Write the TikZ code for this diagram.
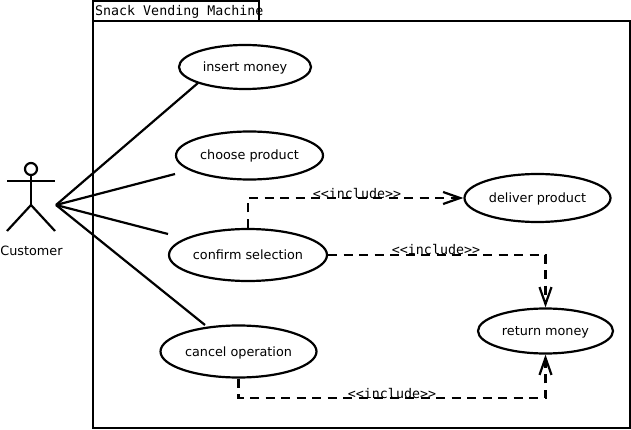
\documentclass[tikz,border=0pt]{standalone}
\usepackage{fontspec}
\setmainfont{DejaVu Sans}
\newfontfamily\monof{DejaVu Sans Mono}
\usetikzlibrary{arrows.meta,shapes.geometric}
\tikzset{
  usecase/.style={ellipse,draw,line width=2.2pt,inner sep=0pt,fill=white,text height=10pt,text depth=1pt,font=\fontsize{12.8}{15}\selectfont},
  assoc/.style={line width=2.2pt},
  incl/.style={line width=2.2pt,dash pattern=on 9pt off 6.5pt,-{Straight Barb[length=17pt,width=12pt,line width=2.2pt]}},
  stereo/.style={font=\monof\fontsize{13.3}{15}\selectfont,inner sep=0pt},
  frameb/.style={draw,line width=2.2pt}
}
\begin{document}
\begin{tikzpicture}[x=1pt,y=-1pt]
\useasboundingbox (0,0) rectangle (631,430);
\node[frameb,minimum width=537pt,minimum height=407pt,inner sep=0pt] (sys) at (361.5,224.5) {};
\node[frameb,minimum width=166pt,minimum height=20pt,inner sep=0pt] (tab) at (176,11) {};
\node[stereo,anchor=west] (title) at (95,11.5) {Snack Vending Machine};
% actor
\node[circle,draw,line width=2.2pt,minimum size=12pt,inner sep=0pt] (head) at (31,169) {};
\coordinate (neck) at (31,205);
\coordinate (armL) at (7,181);
\coordinate (armR) at (55,181);
\coordinate (legL) at (7,231);
\coordinate (legR) at (55,231);
\draw[assoc] (head) -- (neck);
\draw[assoc] (armL) -- (armR);
\draw[assoc] (legL) -- (neck) -- (legR);
\node[font=\fontsize{12.8}{15}\selectfont,inner sep=0pt] (cust) at (31.5,250.5) {Customer};
\coordinate (hub) at (56,205);
% use cases
\node[usecase,minimum width=132pt,minimum height=44pt] (insert) at (245,67) {insert money};
\node[usecase,minimum width=147pt,minimum height=48pt] (choose) at (249.5,155.5) {choose product};
\node[usecase,minimum width=158pt,minimum height=52pt] (confirm) at (248,255) {confirm selection};
\node[usecase,minimum width=146pt,minimum height=48pt] (deliver) at (537.5,198) {deliver product};
\node[usecase,minimum width=135pt,minimum height=45pt] (return) at (545.5,331) {return money};
\node[usecase,minimum width=156pt,minimum height=52pt] (cancel) at (238.5,351.5) {cancel operation};
% associations
\coordinate (e1) at (198,83);
\coordinate (e2) at (175,174);
\coordinate (e3) at (168,234);
\coordinate (e4) at (205,325);
\draw[assoc] (hub) -- (e1);
\draw[assoc] (hub) -- (e2);
\draw[assoc] (hub) -- (e3);
\draw[assoc] (hub) -- (e4);
% includes
\draw[incl] (confirm.north) -- (248,198) -- (deliver.west);
\draw[incl] (confirm.east) -- (545.5,255) -- (return.north);
\draw[incl] (cancel.south) -- (238.5,398) -- (545.5,398) -- (return.south);
\node[stereo] (l1) at (357,193.5) {<<include>>};
\node[stereo] (l2) at (436,250) {<<include>>};
\node[stereo] (l3) at (392,394) {<<include>>};
\end{tikzpicture}
\end{document}
